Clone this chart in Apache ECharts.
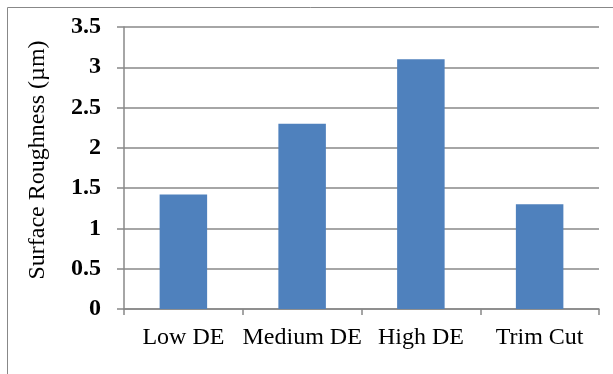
<!DOCTYPE html>
<html><head><meta charset="utf-8">
<script src="https://cdn.jsdelivr.net/npm/echarts@6/dist/echarts.min.js"></script>
<style>html,body{margin:0;padding:0;background:#fff}#c{width:613px;height:374px}</style>
</head><body><div id="c"></div>
<script>
const categories = ['Low DE', 'Medium DE', 'High DE', 'Trim Cut'];
const roughness = [1.42, 2.3, 3.1, 1.3];
const yTicks = [0, 0.5, 1, 1.5, 2, 2.5, 3, 3.5];

const chart = echarts.init(document.getElementById('c'));
const font = "'Liberation Serif','Times New Roman',serif";
chart.setOption({
  animation: false,
  graphic: [{type:'rect', shape:{x:7.5,y:7.5,width:700,height:500}, style:{fill:'none', stroke:'#888', lineWidth:1}}],
  grid: {left:124, right:14, top:27, bottom:65},
  xAxis: {
    type:'category', data: categories,
    axisLine:{lineStyle:{color:'#888', width:1.5}},
    axisTick:{show:true, alignWithLabel:false, length:6, lineStyle:{color:'#888', width:1.5}},
    axisLabel:{color:'#000', fontFamily:font, fontSize:24, margin:17, interval:0}
  },
  yAxis: {
    type:'value', min:yTicks[0], max:yTicks[yTicks.length-1], interval:0.5,
    name:'Surface Roughness (µm)', nameLocation:'middle', nameGap:74,
    nameTextStyle:{color:'#000', fontFamily:font, fontSize:24, padding:[0,0,0,16]},
    axisLine:{show:true, lineStyle:{color:'#888', width:1.5}},
    axisTick:{show:true, length:7, lineStyle:{color:'#888', width:1.5}},
    splitLine:{lineStyle:{color:'#888', width:1.5}},
    axisLabel:{color:'#000', fontFamily:font, fontSize:24, fontWeight:'bold', margin:23}
  },
  series: [{type:'bar', data: roughness, barWidth:'40%', itemStyle:{color:'#4F81BD'}}]
});
</script></body></html>
